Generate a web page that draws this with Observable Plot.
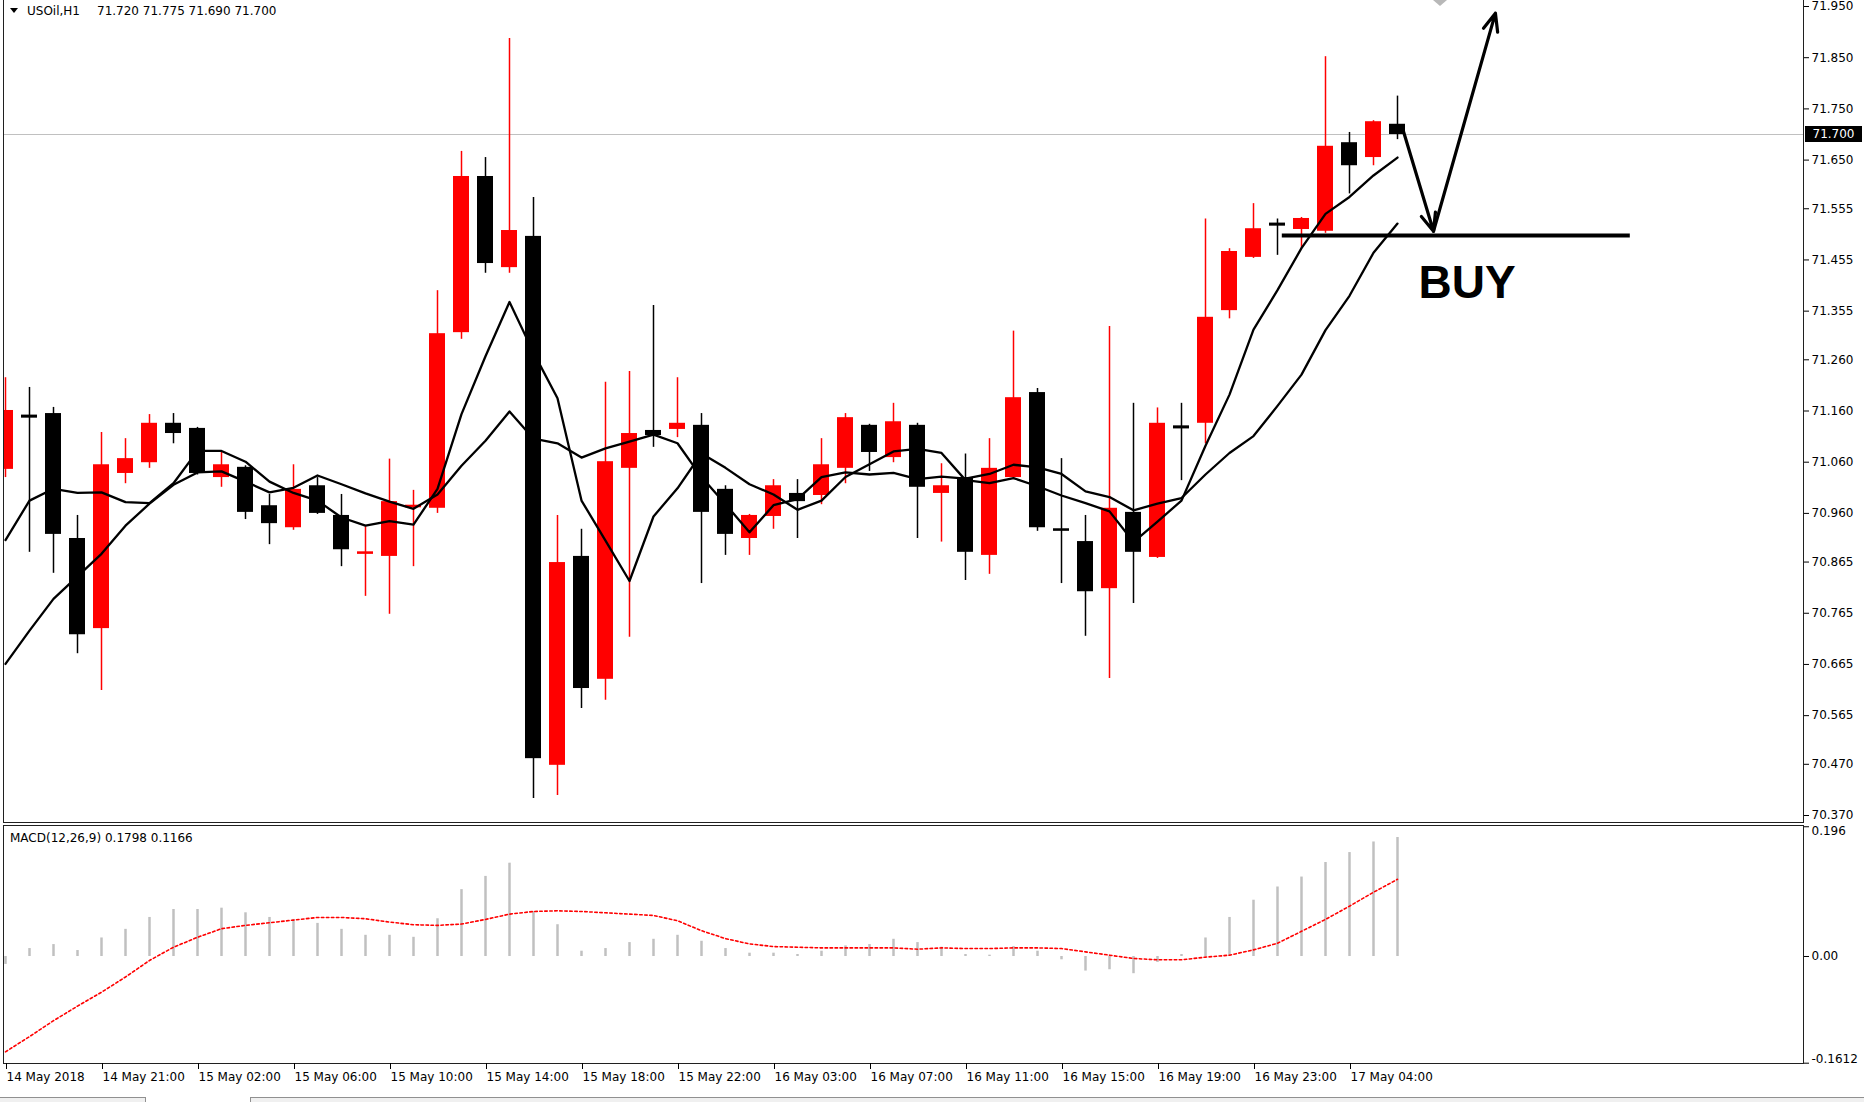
<!DOCTYPE html>
<html>
<head>
<meta charset="utf-8">
<script src="https://cdn.jsdelivr.net/npm/d3@7"></script>
<script src="https://cdn.jsdelivr.net/npm/@observablehq/plot@0.6"></script>
<style>
  html, body { margin: 0; padding: 0; background: #fff; }
  #wrap { position: relative; width: 1864px; height: 1102px; overflow: hidden; font-family: "DejaVu Sans", sans-serif; color: #000; }
  #main, #macd { position: absolute; left: 0; }
  #main { top: 0; }
  #macd { top: 824px; }
</style>
</head>
<body>
<div id="wrap">
  <div id="main"></div>
  <div id="macd"></div>
</div>
<script>
// ---------- data (USOil, H1) ----------
const open = [71.046, 71.152, 71.155, 70.911, 70.735, 71.038, 71.059, 71.136, 71.126, 71.030,
              71.050, 70.975, 70.932, 71.014, 70.956, 70.880, 70.876, 70.971, 70.970, 71.313,
              71.618, 71.440, 71.501, 70.468, 70.876, 70.636, 71.048, 71.122, 71.124, 71.132,
              71.007, 70.911, 70.954, 70.999, 70.995, 71.048, 71.132, 71.069, 71.132, 70.999,
              71.030, 70.878, 71.030, 71.196, 70.930, 70.905, 70.813, 70.962, 70.874, 71.131,
              71.136, 71.356, 71.460, 71.527, 71.5145, 71.511, 71.684, 71.655, 71.720];
const high = [71.225, 71.206, 71.167, 70.956, 71.118, 71.106, 71.153, 71.155, 71.128, 71.079,
              71.053, 70.997, 71.055, 71.030, 70.997, 70.934, 71.066, 71.005, 71.395, 71.667,
              71.655, 71.8875, 71.577, 70.956, 70.929, 71.216, 71.237, 71.366, 71.225, 71.155,
              71.014, 70.958, 71.026, 71.026, 71.106, 71.155, 71.134, 71.175, 71.136, 71.057,
              71.076, 71.106, 71.316, 71.204, 71.067, 70.956, 71.325, 71.175, 71.166, 71.175,
              71.535, 71.477, 71.565, 71.535, 71.538, 71.852, 71.704, 71.727, 71.775];
const low = [71.030, 70.884, 70.843, 70.686, 70.614, 71.018, 71.048, 71.096, 71.035, 71.011,
             70.948, 70.899, 70.927, 70.958, 70.856, 70.798, 70.763, 70.856, 70.960, 71.300,
             71.429, 71.429, 70.403, 70.409, 70.579, 70.595, 70.718, 71.089, 71.108, 70.823,
             70.878, 70.878, 70.929, 70.911, 70.977, 71.018, 71.042, 71.059, 70.911, 70.904,
             70.829, 70.841, 71.028, 70.925, 70.823, 70.720, 70.6375, 70.784, 70.872, 71.024,
             71.096, 71.340, 71.458, 71.464, 71.477, 71.507, 71.584, 71.639, 71.690];
const close = [71.161, 71.146, 70.919, 70.723, 71.055, 71.067, 71.136, 71.116, 71.038, 71.055,
               70.962, 70.940, 71.007, 70.960, 70.889, 70.885, 70.983, 70.976, 71.311, 71.618,
               71.448, 71.5125, 70.481, 70.864, 70.618, 71.061, 71.116, 71.112, 71.136, 70.962,
               70.919, 70.956, 71.014, 70.983, 71.055, 71.147, 71.079, 71.139, 71.011, 71.014,
               70.884, 71.048, 71.186, 70.932, 70.925, 70.807, 70.970, 70.884, 71.136, 71.125,
               71.343, 71.4715, 71.516, 71.521, 71.536, 71.677, 71.639, 71.725, 71.700];
const maFast = [70.908, 70.985, 71.008, 71.000, 71.001, 70.982, 70.980, 71.019, 71.082, 71.082,
                71.061, 71.022, 71.000, 70.985, 70.952, 70.936, 70.945, 70.938, 71.008, 71.154,
                71.267, 71.373, 71.274, 71.185, 70.985, 70.907, 70.828, 70.954, 71.009, 71.077,
                71.049, 71.017, 70.997, 70.967, 70.985, 71.031, 71.056, 71.081, 71.086, 71.078,
                71.025, 71.019, 71.029, 71.013, 70.995, 70.980, 70.964, 70.904, 70.944, 70.985,
                71.092, 71.192, 71.319, 71.396, 71.478, 71.545, 71.578, 71.620, 71.655];
const maSlow = [70.666, 70.731, 70.793, 70.837, 70.881, 70.936, 70.979, 71.016, 71.040, 71.042,
                71.022, 71.001, 71.010, 71.034, 71.017, 70.999, 70.983, 70.969, 70.997, 71.053,
                71.102, 71.159, 71.106, 71.097, 71.069, 71.087, 71.100, 71.114, 71.097, 71.031,
                70.978, 70.923, 70.976, 70.988, 71.031, 71.040, 71.036, 71.039, 71.027, 71.032,
                71.028, 71.037, 71.055, 71.050, 71.037, 71.003, 70.992, 70.966, 70.979, 70.990,
                71.036, 71.078, 71.111, 71.170, 71.231, 71.318, 71.385, 71.469, 71.526];
const macdMain = [-0.012, 0.012, 0.018, 0.009, 0.028, 0.041, 0.059, 0.071, 0.071, 0.073,
                  0.066, 0.059, 0.056, 0.050, 0.041, 0.032, 0.032, 0.029, 0.057, 0.101,
                  0.121, 0.141, 0.068, 0.048, 0.008, 0.012, 0.021, 0.026, 0.032, 0.023,
                  0.012, 0.005, 0.005, 0.003, 0.008, 0.016, 0.018, 0.026, 0.021, 0.014,
                  0.003, 0.002, 0.015, 0.008, -0.005, -0.022, -0.020, -0.026, -0.009, 0.003,
                  0.028, 0.059, 0.085, 0.105, 0.120, 0.142, 0.157, 0.173, 0.1798];
const macdSignal = [-0.144, -0.121, -0.097, -0.075, -0.054, -0.031, -0.006, 0.014, 0.029, 0.042,
                    0.047, 0.051, 0.055, 0.059, 0.059, 0.057, 0.052, 0.048, 0.047, 0.049,
                    0.056, 0.064, 0.068, 0.069, 0.068, 0.066, 0.064, 0.062, 0.054, 0.039,
                    0.027, 0.019, 0.015, 0.014, 0.013, 0.013, 0.013, 0.013, 0.011, 0.013,
                    0.012, 0.012, 0.013, 0.013, 0.012, 0.007, 0.002, -0.003, -0.005, -0.005,
                    -0.001, 0.002, 0.010, 0.020, 0.038, 0.056, 0.076, 0.097, 0.1166];
const timeLabels = ["14 May 2018", "14 May 21:00", "15 May 02:00", "15 May 06:00", "15 May 10:00",
                    "15 May 14:00", "15 May 18:00", "15 May 22:00", "16 May 03:00", "16 May 07:00",
                    "16 May 11:00", "16 May 15:00", "16 May 19:00", "16 May 23:00", "17 May 04:00"];
const timeLabelBars = [0, 4, 8, 12, 16, 20, 24, 28, 32, 36, 40, 44, 48, 52, 56];
const priceTicks = [71.950, 71.850, 71.750, 71.650, 71.555, 71.455, 71.355, 71.260, 71.160,
                    71.060, 70.960, 70.865, 70.765, 70.665, 70.565, 70.470, 70.370];
const macdTicks = [0.196, 0, -0.1612];
const macdTickText = ["0.196", "0.00", "-0.1612"];
const bidPrice = 71.700;
const lastBar = {symbol: "USOil,H1", o: "71.720", h: "71.775", l: "71.690", c: "71.700"};
const macdTitle = {name: "MACD(12,26,9)", main: "0.1798", signal: "0.1166"};
// hand-drawn annotation (bar index, price)
const buyLine = [{p: 71.503, i1: 53.2, i2: 67.7}];
const arrowSegs = [{i1: 58.25, p1: 71.706, i2: 59.5, p2: 71.511},
                   {i1: 59.5, p1: 71.511, i2: 62.08, p2: 71.937}];
const buyLabel = [{i: 60.9, p: 71.41, text: "BUY"}];

// ---------- tables ----------
const n = open.length;
const bars = d3.range(n);
const candles = bars.map(i => ({i, open: open[i], high: high[i], low: low[i], close: close[i]}));
const up = candles.filter(d => d.close >= d.open);
const dn = candles.filter(d => d.close < d.open);
const maRows = bars.map(i => ({i, fast: maFast[i], slow: maSlow[i]}));
const macdRows = bars.map(i => ({i, main: macdMain[i], signal: macdSignal[i]}));

const RED = "#ff0000", BLACK = "#000000";
const firstX = 5, step = 24, half = 1 / 3;
const xScale = {domain: [0, n - 1], range: [firstX, firstX + step * (n - 1)], axis: null};
const baseStyle = {fontFamily: "DejaVu Sans", fontSize: "12px", color: "#000", background: "transparent", overflow: "visible"};

const mainPlot = Plot.plot({
  width: 1864, height: 824,
  marginLeft: 3, marginRight: 61, marginTop: -1, marginBottom: 2,
  x: xScale,
  y: {domain: [d3.min(priceTicks), d3.max(priceTicks)], range: [815, 6]},
  style: baseStyle,
  marks: [
    Plot.ruleY([bidPrice], {stroke: "#c0c0c0", strokeWidth: 1}),
    Plot.ruleX(up, {x: "i", y1: "low", y2: "high", stroke: RED, strokeWidth: 1.5, clip: true}),
    Plot.ruleX(dn, {x: "i", y1: "low", y2: "high", stroke: BLACK, strokeWidth: 1.5, clip: true}),
    Plot.rect(up, {x1: d => d.i - half, x2: d => d.i + half, y1: "open", y2: "close", fill: RED, clip: true}),
    Plot.rect(dn, {x1: d => d.i - half, x2: d => d.i + half, y1: "open", y2: "close", fill: BLACK, clip: true}),
    Plot.line(maRows, {x: "i", y: "fast", stroke: BLACK, strokeWidth: 2.3, clip: true}),
    Plot.line(maRows, {x: "i", y: "slow", stroke: BLACK, strokeWidth: 2.3, clip: true}),
    Plot.ruleY(buyLine, {y: "p", x1: "i1", x2: "i2", stroke: BLACK, strokeWidth: 4}),
    Plot.arrow(arrowSegs, {x1: "i1", y1: "p1", x2: "i2", y2: "p2", stroke: BLACK, strokeWidth: 3.2, headLength: 9, headAngle: 45}),
    Plot.text(buyLabel, {x: "i", y: "p", text: "text", fontSize: 46, fontWeight: "bold", fontFamily: "Liberation Sans", fill: BLACK, textAnchor: "middle", lineAnchor: "middle"}),
    Plot.frame({stroke: "#202020"}),
    Plot.axisY({anchor: "right", ticks: priceTicks, tickFormat: d3.format(".3f"), tickSize: 5, tickPadding: 3, label: null, fontSize: 12})
  ]
});
document.getElementById("main").append(mainPlot);

const macdPlot = Plot.plot({
  width: 1864, height: 278,
  marginLeft: 3, marginRight: 61, marginTop: 1, marginBottom: 39,
  x: xScale,
  y: {domain: [d3.min(macdTicks), d3.max(macdTicks)], range: [238.7, 2.25]},
  style: baseStyle,
  marks: [
    Plot.ruleX(macdRows, {x: "i", y1: 0, y2: "main", stroke: "#c0c0c0", strokeWidth: 2.5, clip: true}),
    Plot.line(macdRows, {x: "i", y: "signal", stroke: RED, strokeWidth: 1.6, strokeDasharray: "2.5,2.5", clip: true}),
    Plot.frame({stroke: "#202020"}),
    Plot.axisY({anchor: "right", ticks: [macdTicks[0]], tickFormat: () => macdTickText[0], tickSize: 5, tickPadding: 3, label: null, lineAnchor: "top"}),
    Plot.axisY({anchor: "right", ticks: [macdTicks[1]], tickFormat: () => macdTickText[1], tickSize: 5, tickPadding: 3, label: null}),
    Plot.axisY({anchor: "right", ticks: [macdTicks[2]], tickFormat: () => macdTickText[2], tickSize: 5, tickPadding: 3, label: null, lineAnchor: "bottom"}),
    Plot.axisX({anchor: "bottom", ticks: timeLabelBars, tickFormat: i => timeLabels[timeLabelBars.indexOf(i)], tickSize: 6, tickPadding: 3, textAnchor: "start", dx: 1, label: null})
  ]
});
document.getElementById("macd").append(macdPlot);

// ---------- overlays (header texts, bid label) ----------
function pix(plot, name) {
  const s = plot.scale(name);
  if (s && typeof s.apply === "function") return v => s.apply(v);
  const [d0, d1] = s.domain, [r0, r1] = s.range;
  return v => r0 + (v - d0) * (r1 - r0) / (d1 - d0);
}
const wrap = document.getElementById("wrap");
function addDiv(css, text) {
  const d = document.createElement("div");
  d.style.cssText = css;
  if (text != null) d.textContent = text;
  wrap.append(d);
  return d;
}
const yMain = pix(mainPlot, "y");
// header
addDiv("position:absolute;left:10px;top:8px;width:0;height:0;border-left:4px solid transparent;border-right:4px solid transparent;border-top:5px solid #000;");
addDiv("position:absolute;left:27px;top:4px;font-size:12px;line-height:14px;white-space:pre;", lastBar.symbol);
addDiv("position:absolute;left:97px;top:4px;font-size:12px;line-height:14px;white-space:pre;", [lastBar.o, lastBar.h, lastBar.l, lastBar.c].join(" "));
// chart shift marker
addDiv("position:absolute;left:1433px;top:0px;width:0;height:0;border-left:7px solid transparent;border-right:7px solid transparent;border-top:6px solid #b8b8b8;");
// bid price box
addDiv("position:absolute;left:1805px;top:" + (yMain(bidPrice) - 8) + "px;width:57px;height:16px;background:#000;color:#fff;font-size:12px;line-height:16px;text-align:center;", d3.format(".3f")(bidPrice));
// MACD header
addDiv("position:absolute;left:10px;top:831px;font-size:12px;line-height:14px;white-space:pre;", macdTitle.name + " " + macdTitle.main + " " + macdTitle.signal);
// bottom tab strip
addDiv("position:absolute;left:0;top:1097px;width:1864px;height:5px;background:#f0f0f0;border-top:1px solid #909090;");
addDiv("position:absolute;left:145px;top:1097px;width:104px;height:5px;background:#fff;border-left:1px solid #909090;border-right:1px solid #909090;");
</script>
</body>
</html>
